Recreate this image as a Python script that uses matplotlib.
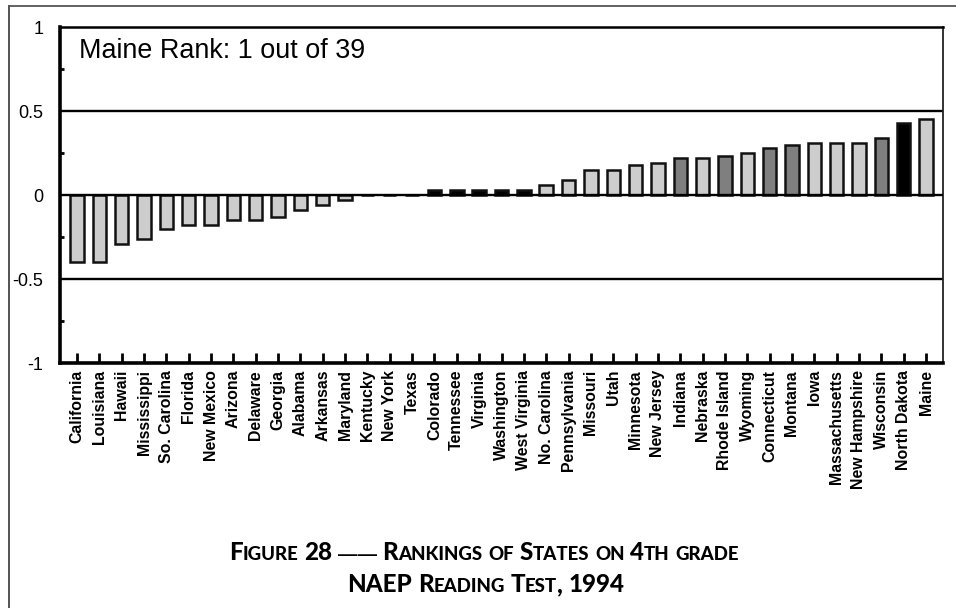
import numpy as np
import matplotlib
matplotlib.use("Agg")
import matplotlib.pyplot as plt
from matplotlib.lines import Line2D

plt.rcParams['font.family'] = ['Liberation Sans', 'DejaVu Sans']

# data
states = ["California", "Louisiana", "Hawaii", "Mississippi", "So. Carolina",
          "Florida", "New Mexico", "Arizona", "Delaware", "Georgia", "Alabama",
          "Arkansas", "Maryland", "Kentucky", "New York", "Texas", "Colorado",
          "Tennessee", "Virginia", "Washington", "West Virginia", "No. Carolina",
          "Pennsylvania", "Missouri", "Utah", "Minnesota", "New Jersey", "Indiana",
          "Nebraska", "Rhode Island", "Wyoming", "Connecticut", "Montana", "Iowa",
          "Massachusetts", "New Hampshire", "Wisconsin", "North Dakota", "Maine"]
scores = [-0.40, -0.40, -0.29, -0.26, -0.20, -0.18, -0.18, -0.15, -0.15, -0.13,
          -0.09, -0.06, -0.03, 0.0, 0.0, 0.0, 0.03, 0.03, 0.03, 0.03, 0.03,
          0.06, 0.09, 0.15, 0.15, 0.18, 0.19, 0.22, 0.22, 0.23, 0.25, 0.28,
          0.30, 0.31, 0.31, 0.31, 0.34, 0.43, 0.45]
shade = ["l"] * 16 + ["k"] * 5 + ["l"] * 6 + ["d", "l", "d", "l", "d", "d",
                                               "l", "l", "l", "d", "k", "l"]
yticks = [-1, -0.5, 0, 0.5, 1]
ytick_labels = ["-1", "-0.5", "0", "0.5", "1"]
rank_note = "Maine Rank: 1 out of 39"
title_lines = ["Figure 28 \u2014\u2014 Rankings of States on 4th grade",
               "NAEP Reading Test, 1994"]

palette = {"l": "#cdcdcd", "d": "#7f7f7f", "k": "#000000"}

W, H = 956, 608
fig = plt.figure(figsize=(W / 100, H / 100), dpi=100)
ax = fig.add_axes([60 / W, 1 - 363 / H, (943 - 60) / W, (363 - 27) / H])

x = np.arange(len(states))
ax.bar(x, scores, width=0.6, color=[palette[s] for s in shade],
       edgecolor="#111111", linewidth=1.8, zorder=3)

for g in [0.5, 0, -0.5]:
    ax.axhline(g, color="black", lw=1.7, zorder=4 if g == 0 else 1)

ax.set_xlim(-0.76, 38.76)
ax.set_ylim(-1, 1)
ax.set_yticks(yticks)
ax.set_yticklabels(ytick_labels)
ax.set_yticks([0.75, 0.25, -0.25, -0.75], minor=True)
ax.tick_params(axis="y", which="major", length=0, pad=12, labelsize=13)
ax.tick_params(axis="y", which="minor", direction="in", length=3, width=2)
ax.set_xticks(x)
ax.set_xticklabels(states, rotation=90, fontsize=11.4, fontweight="bold",
                   va="top", ha="center")
ax.tick_params(axis="x", direction="in", length=7, width=2, pad=5)

ax.spines["left"].set_linewidth(2.6)
ax.spines["bottom"].set_linewidth(2.6)
ax.spines["top"].set_linewidth(1.8)
ax.spines["right"].set_linewidth(1.3)
ax.spines["right"].set_color("#222222")

ax.text(0.022, 0.93, rank_note, transform=ax.transAxes, fontsize=19.4,
        ha="left", va="center")

# outer frame (top and left edges only)
fig.add_artist(Line2D([9 / W, 9 / W], [0, 1 - 6 / H], color="#444444", lw=1.3,
                      transform=fig.transFigure))
fig.add_artist(Line2D([9 / W, 1], [1 - 6 / H, 1 - 6 / H], color="#555555",
                      lw=1.3, transform=fig.transFigure))


# small-caps caption, laid out piece by piece
def small_caps(text, yc, xc, big=17.4, small=13.4):
    renderer = fig.canvas.get_renderer()
    runs = []
    for ch in text:
        kind = "s" if ch.islower() else ("sp" if ch == " " else "b")
        if runs and runs[-1][0] == kind:
            runs[-1][1] += ch
        else:
            runs.append([kind, ch])
    style = dict(fontweight="black", family="Lato")
    pieces = []
    total = 0
    for kind, s in runs:
        if kind == "sp":
            probe1 = fig.text(0, 0, "a" + s + "a", fontsize=big, **style)
            probe2 = fig.text(0, 0, "aa", fontsize=big, **style)
            w = (probe1.get_window_extent(renderer).width
                 - probe2.get_window_extent(renderer).width)
            probe1.remove()
            probe2.remove()
            pieces.append((None, w))
        else:
            if "\u2014" in s:
                t = fig.text(0, yc, s, fontsize=14, va="baseline",
                             family="Liberation Sans", fontweight="bold")
            else:
                t = fig.text(0, yc, s.upper(), va="baseline",
                             fontsize=small if kind == "s" else big, **style)
            w = t.get_window_extent(renderer).width
            pieces.append((t, w))
        total += w
    cur = xc * W - total / 2
    for t, w in pieces:
        if t is not None:
            t.set_x(cur / W)
        cur += w


small_caps(title_lines[0], 1 - 560 / H, 484 / W)
small_caps(title_lines[1], 1 - 592 / H, 486 / W)

fig.savefig("out.png", dpi=100)
